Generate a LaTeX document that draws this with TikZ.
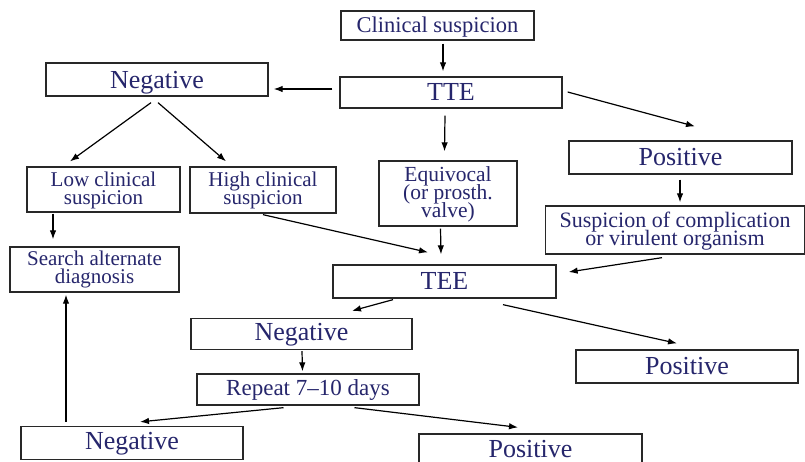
\documentclass[tikz,border=0pt]{standalone}
\usepackage{fontspec}
\setmainfont{Liberation Serif}
\usetikzlibrary{arrows.meta,calc}

\definecolor{navy}{RGB}{38,38,108}
\definecolor{edge}{RGB}{40,40,40}

% fixed line pitch for stacked labels
\newcommand{\fixedpitch}{\lineskip=0pt\lineskiplimit=-100pt}

\tikzset{
  box/.style={draw=edge, line width=1.3pt, inner sep=0pt, text=navy, align=center},
  big/.style={box, font=\fontsize{26}{26}\selectfont, text depth=0pt, text height=15pt},
  small/.style={box, font=\fontsize{21}{18}\selectfont\fixedpitch},
  arr/.style={draw=black, line width=1.2pt, -{Latex[length=9pt,width=6.5pt]}},
}

\begin{document}
\begin{tikzpicture}[x=1pt,y=-1pt]
  \useasboundingbox (0,0) rectangle (805,461);
  \fill[white] (0,0) rectangle (805,461);
  \clip (0,0) rectangle (805,461);

  % boxes
  \node[box, font=\fontsize{22.5}{22.5}\selectfont, text height=14pt, text depth=0pt,
        minimum width=193pt, minimum height=29pt] (clin) at (437.5,25.5) {Clinical suspicion};
  \node[big, minimum width=222pt, minimum height=31pt] (tte) at (451,92.5) {TTE};
  \node[big, text height=17.6pt, minimum width=222pt, minimum height=33pt] (negA) at (157,79.5) {Negative};
  \node[big, minimum width=223pt, minimum height=33pt] (posA) at (680.5,157.5) {Positive};
  \node[small, text height=34pt, text depth=4pt, minimum width=153pt, minimum height=45pt] (low) at (103.5,189.5) {Low clinical\\suspicion};
  \node[small, text height=34pt, text depth=5pt, minimum width=146pt, minimum height=46pt] (high) at (263,190) {High clinical\\suspicion};
  \node[box, font=\fontsize{21.5}{18}\selectfont\fixedpitch, text height=52pt, text depth=5pt,
        minimum width=138pt, minimum height=65pt] (equi) at (448,193.5) {Equivocal\\(or prosth.\\valve)};
  \node[box, font=\fontsize{22}{18}\selectfont\fixedpitch, text height=36pt, text depth=5pt,
        minimum width=259pt, minimum height=48pt] (susp) at (675,230) {Suspicion of complication\\or virulent organism};
  \node[small, text height=33pt, text depth=5pt, minimum width=169pt, minimum height=45pt] (search) at (94.5,269.5) {Search alternate\\diagnosis};
  \node[big, text height=15.4pt, minimum width=223pt, minimum height=33pt] (tee) at (444.5,281.5) {TEE};
  \node[big, text height=12pt, minimum width=221pt, minimum height=31pt] (negB) at (301.5,334) {Negative};
  \node[big, text height=16pt, minimum width=222pt, minimum height=33pt] (posB) at (687,366.5) {Positive};
  \node[box, font=\fontsize{23}{23}\selectfont, text height=12.4pt, text depth=0pt,
        minimum width=222pt, minimum height=31pt] (rep) at (308,389.5) {Repeat 7--10 days};
  \node[big, text height=13pt, minimum width=222pt, minimum height=33pt] (negC) at (132,443) {Negative};
  \node[big, text height=14pt, minimum width=223pt, minimum height=33pt] (posC) at (530.5,450.5) {Positive};

  % connectors
  \draw[arr] ($(clin.south)+(5.5,3)$) -- ($(tte.north)+(-8,-5)$);
  \draw[arr] ($(tte.west)+(-7,-3.5)$) -- ($(negA.east)+(5,9.5)$);
  \draw[arr] ($(tte.east)+(5,-0.5)$) -- ($(posA.north)+(14.5,-14)$);
  \draw[arr] ($(tte.south)+(-6,7)$) -- ($(equi.north)+(-3.5,-9)$);
  \draw[arr] ($(negA.south)+(-6,6)$) -- ($(low.north)+(-33.5,-5)$);
  \draw[arr] ($(negA.south)+(1,6)$) -- ($(high.north)+(-37,-5)$);
  \draw[arr] ($(posA.south)+(-0.5,5)$) -- ($(susp.north)+(5,-3)$);
  \draw[arr] ($(low.south)+(-50.5,1)$) -- ($(search.north)+(-41.5,-7)$);
  \draw[arr] ($(high.south)+(0,1)$) -- ($(tee.north)+(-16.5,-12)$);
  \draw[arr] ($(equi.south)+(-7.5,2)$) -- ($(tee.north)+(-3.5,-10)$);
  \draw[arr] ($(susp.south)+(-13,3)$) -- ($(tee.east)+(12,-9.5)$);
  \draw[arr] ($(tee.south)+(-51.5,1)$) -- ($(negB.north)+(50.5,-7)$);
  \draw[arr] ($(tee.south)+(58.5,6)$) -- ($(posB.north)+(-10,-6)$);
  \draw[arr] ($(negB.south)+(0.5,1)$) -- ($(rep.north)+(-5.5,-2)$);
  \draw[arr] ($(rep.south)+(-24.5,2)$) -- ($(negC.north)+(8,-4)$);
  \draw[arr] ($(rep.south)+(46.5,2)$) -- ($(posC.north)+(-12.5,-6)$);
  \draw[arr] ($(negC.north)+(-66,-4)$) -- ($(search.south)+(-28.5,2)$);
\end{tikzpicture}
\end{document}
